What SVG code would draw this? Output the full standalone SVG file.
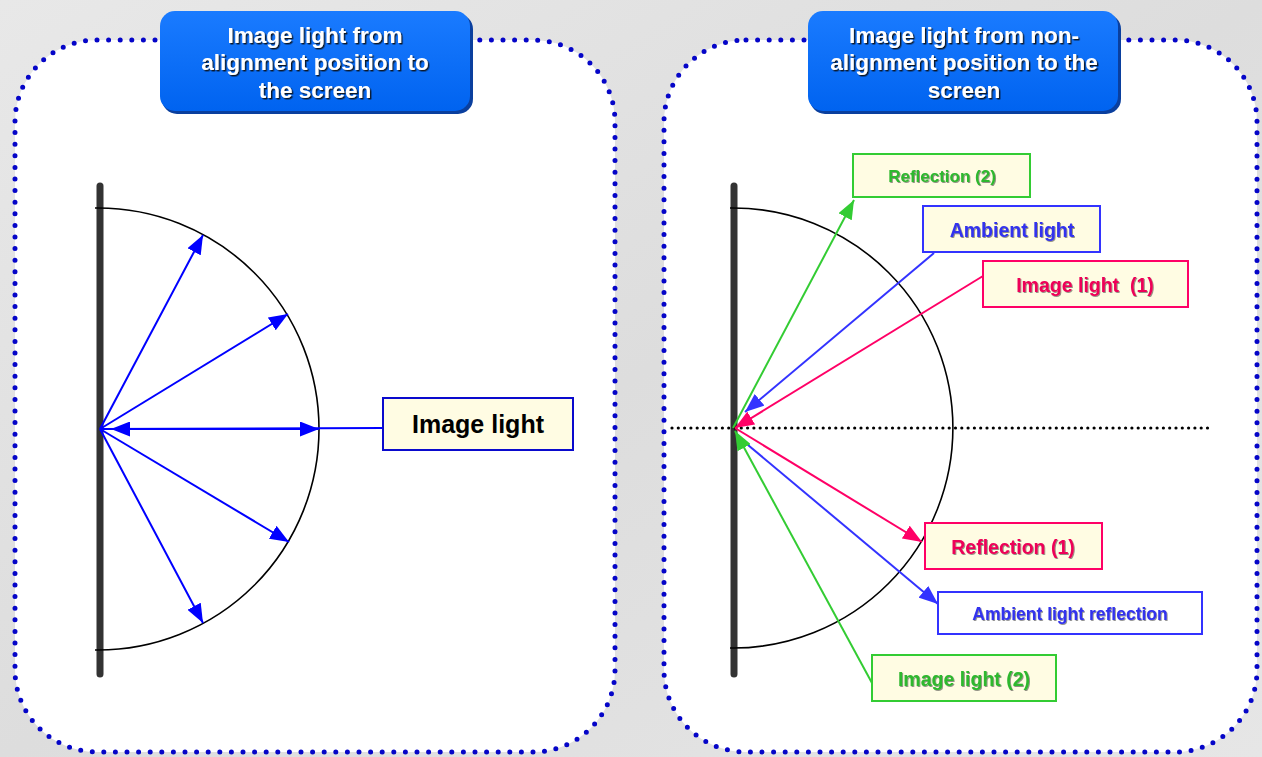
<svg xmlns="http://www.w3.org/2000/svg" width="1262" height="757" viewBox="0 0 1262 757">
<defs>
<linearGradient id="bg" x1="0" y1="0" x2="1" y2="1">
<stop offset="0" stop-color="#e8e8e8"/><stop offset="0.5" stop-color="#dddddd"/><stop offset="1" stop-color="#e6e6e6"/>
</linearGradient>
<linearGradient id="tb" x1="0" y1="0" x2="0" y2="1">
<stop offset="0" stop-color="#1a7bff"/><stop offset="1" stop-color="#0063f0"/>
</linearGradient>
<filter id="sh" x="-10%" y="-20%" width="120%" height="150%">
<feDropShadow dx="1.4" dy="1.4" stdDeviation="0.4" flood-color="#111" flood-opacity="0.9"/>
</filter>
<filter id="sh2" x="-10%" y="-20%" width="120%" height="150%">
<feDropShadow dx="0.9" dy="0.9" stdDeviation="0.3" flood-color="#222" flood-opacity="0.55"/>
</filter>
<marker id="aB" viewBox="0 0 19 15" markerUnits="userSpaceOnUse" markerWidth="19" markerHeight="15" refX="19" refY="7.5" orient="auto-start-reverse"><path d="M0,0 L19,7.5 L0,15 z" fill="#0000ff"/></marker>
<marker id="aBl" viewBox="0 0 19 15" markerUnits="userSpaceOnUse" markerWidth="19" markerHeight="15" refX="19" refY="7.5" orient="auto"><path d="M0,0 L19,7.5 L0,15 z" fill="#3333ff"/></marker>
<marker id="aP" viewBox="0 0 19 15" markerUnits="userSpaceOnUse" markerWidth="19" markerHeight="15" refX="19" refY="7.5" orient="auto"><path d="M0,0 L19,7.5 L0,15 z" fill="#ff0066"/></marker>
<marker id="aG" viewBox="0 0 19 15" markerUnits="userSpaceOnUse" markerWidth="19" markerHeight="15" refX="19" refY="7.5" orient="auto"><path d="M0,0 L19,7.5 L0,15 z" fill="#33cc33"/></marker>
</defs>
<style>
.panel{fill:#ffffff;stroke:#0505c8;stroke-width:5;stroke-dasharray:0 11.6;stroke-linecap:round}
.bar{stroke:#333333;stroke-width:7;stroke-linecap:round}
.arc{fill:none;stroke:#000;stroke-width:1.6}
.tbs{fill:#0a3f9e}
.tb{fill:url(#tb)}
.tt{font-family:"Liberation Sans",Arial,sans-serif;font-weight:bold;font-size:22.5px;fill:#ffffff;text-anchor:middle;filter:url(#sh)}
.lb{font-family:"Liberation Sans",Arial,sans-serif;font-weight:bold;text-anchor:middle;filter:url(#sh2);white-space:pre}
.box{fill:#fffce3;stroke-width:2}
.blue{stroke:#0000ff;stroke-width:2;fill:none}
.cb{stroke:#3333ff;stroke-width:2;fill:none}
.cp{stroke:#ff0066;stroke-width:2;fill:none}
.cg{stroke:#33cc33;stroke-width:2;fill:none}
</style>
<rect x="0" y="0" width="1262" height="757" fill="url(#bg)"/>

<g id="panel-left"><rect class="panel" x="15" y="40" width="600" height="712" rx="82" ry="82"/></g>
<g id="panel-right"><rect class="panel" x="664" y="40" width="593" height="712" rx="82" ry="82"/></g>

<g id="title-left">
<rect class="tbs" x="162" y="14" width="311" height="100" rx="15"/>
<rect class="tb" x="160" y="11" width="310" height="100" rx="15"/>
<text class="tt" x="315" y="43">Image light from</text>
<text class="tt" x="315" y="70">alignment position to</text>
<text class="tt" x="315" y="98">the screen</text>
</g>
<g id="title-right">
<rect class="tbs" x="810" y="14" width="311" height="100" rx="15"/>
<rect class="tb" x="808" y="11" width="310" height="100" rx="15"/>
<text class="tt" x="964" y="43">Image light from non-</text>
<text class="tt" x="964" y="70">alignment position to the</text>
<text class="tt" x="964" y="98">screen</text>
</g>

<g id="screen-left">
<line class="bar" x1="100" y1="186" x2="100" y2="674"/>
<path class="arc" d="M95,208 L98,208 A221,221 0 0 1 98,650 L95,650"/>
</g>
<g id="screen-right">
<line class="bar" x1="734" y1="186" x2="734" y2="674"/>
<path class="arc" d="M730,208 L733,208 A220,220 0 0 1 733,648 L730,648"/>
<line x1="672" y1="428" x2="1212" y2="428" stroke="#000" stroke-width="3.2" stroke-dasharray="0 6.3" stroke-linecap="round"/>
</g>

<g id="connectors">
<line class="blue" x1="100" y1="429" x2="203" y2="235" marker-end="url(#aB)"/>
<line class="blue" x1="100" y1="429" x2="288" y2="314" marker-end="url(#aB)"/>
<line class="blue" x1="100" y1="429" x2="289" y2="542" marker-end="url(#aB)"/>
<line class="blue" x1="100" y1="429" x2="203" y2="623" marker-end="url(#aB)"/>
<line class="blue" x1="100" y1="429" x2="383" y2="428" stroke-width="1.6"/>
<line class="blue" x1="111" y1="429" x2="319" y2="429" stroke-width="3" marker-start="url(#aB)" marker-end="url(#aB)"/>

<line class="cg" x1="733" y1="428" x2="854" y2="200" marker-end="url(#aG)"/>
<line class="cb" x1="934" y1="253" x2="745" y2="412" marker-end="url(#aBl)"/>
<line class="cp" x1="983" y1="276" x2="735" y2="428" marker-end="url(#aP)"/>
<line class="cp" x1="735" y1="428" x2="922" y2="542" marker-end="url(#aP)"/>
<line class="cb" x1="748" y1="445" x2="938" y2="604" marker-end="url(#aBl)"/>
<line class="cg" x1="872" y1="683" x2="735" y2="431" marker-end="url(#aG)"/>
</g>

<g id="label-image-light">
<rect class="box" x="383" y="398" width="190" height="52" stroke="#0a0acd"/>
<text class="lb" x="478" y="433" font-size="25" fill="#000" style="filter:none">Image light</text>
</g>
<g id="label-reflection-2">
<rect class="box" x="853" y="154" width="177" height="43" stroke="#33cc33"/>
<text class="lb" x="942" y="182" font-size="17" fill="#2db82d">Reflection (2)</text>
</g>
<g id="label-ambient-light">
<rect class="box" x="923" y="206" width="177" height="46" stroke="#3333ff"/>
<text class="lb" x="1012" y="237" font-size="19.5" fill="#3333ee">Ambient light</text>
</g>
<g id="label-image-light-1">
<rect class="box" x="983" y="261" width="205" height="46" stroke="#ff0066"/>
<text class="lb" x="1085" y="292" font-size="19.5" fill="#ee0058">Image light  (1)</text>
</g>
<g id="label-reflection-1">
<rect class="box" x="925" y="523" width="177" height="46" stroke="#ff0066"/>
<text class="lb" x="1013" y="554" font-size="19.5" fill="#ee0058">Reflection (1)</text>
</g>
<g id="label-ambient-reflection">
<rect x="938" y="592" width="264" height="42" fill="#ffffff" stroke="#3333ff" stroke-width="2"/>
<text class="lb" x="1070" y="620" font-size="17.5" fill="#3333ee">Ambient light reflection</text>
</g>
<g id="label-image-light-2">
<rect class="box" x="872" y="655" width="184" height="46" stroke="#33cc33"/>
<text class="lb" x="964" y="686" font-size="19.5" fill="#2db82d">Image light (2)</text>
</g>
</svg>
